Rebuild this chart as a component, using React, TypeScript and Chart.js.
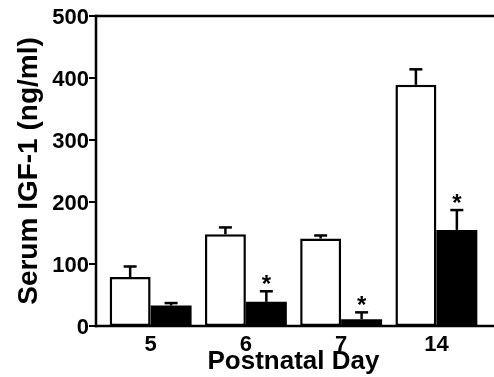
import React, { useEffect, useRef } from "react";
import { Chart, registerables } from "chart.js";

Chart.register(...registerables);

const categories = ["5", "6", "7", "14"];
const controlMeans = [79, 148, 141, 389];
const controlSem = [17, 11, 5, 25];
const treatedMeans = [33, 39, 11, 155];
const treatedSem = [4, 17, 11, 32];
const significant = [false, true, true, true];
const yTicks = [0, 100, 200, 300, 400, 500];

const FONT = "'Liberation Sans', Arial, Helvetica, sans-serif";

const axesPlugin = {
  id: "axesAndErrors",
  afterDatasetsDraw(chart: any) {
    const { ctx, chartArea, scales } = chart;
    const y = scales.y;
    const axisX = chartArea.left - 7;
    const yTop = y.getPixelForValue(500);
    const yBot = y.getPixelForValue(0);
    const right = chart.width;
    ctx.save();
    ctx.strokeStyle = "#000";
    ctx.lineWidth = 2.5;
    ctx.lineCap = "butt";
    ctx.beginPath();
    ctx.moveTo(axisX, yTop - 1.25);
    ctx.lineTo(axisX, yBot + 1.25);
    ctx.stroke();
    ctx.beginPath();
    ctx.moveTo(axisX - 1.25, yTop);
    ctx.lineTo(right, yTop);
    ctx.stroke();
    ctx.beginPath();
    ctx.moveTo(axisX - 1.25, yBot);
    ctx.lineTo(right, yBot);
    ctx.stroke();
    ctx.lineWidth = 2;
    yTicks.forEach((v) => {
      const py = y.getPixelForValue(v);
      ctx.beginPath();
      ctx.moveTo(axisX - 7, py);
      ctx.lineTo(axisX, py);
      ctx.stroke();
    });
    const sems = [controlSem, treatedSem];
    const means = [controlMeans, treatedMeans];
    [0, 1].forEach((di) => {
      const meta = chart.getDatasetMeta(di);
      meta.data.forEach((el: any, j: number) => {
        const top = y.getPixelForValue(means[di][j]);
        const cap = y.getPixelForValue(means[di][j] + sems[di][j]);
        ctx.lineWidth = 2.5;
        ctx.beginPath();
        ctx.moveTo(el.x, top);
        ctx.lineTo(el.x, cap);
        ctx.stroke();
        ctx.beginPath();
        ctx.moveTo(el.x - 6.5, cap);
        ctx.lineTo(el.x + 6.5, cap);
        ctx.stroke();
        if (di === 1 && significant[j]) {
          ctx.fillStyle = "#000";
          ctx.font = `bold 24px ${FONT}`;
          ctx.textAlign = "center";
          ctx.textBaseline = "alphabetic";
          ctx.fillText("*", el.x, cap + 1);
        }
      });
    });
    ctx.restore();
  },
};

export default function App() {
  const ref = useRef<HTMLCanvasElement>(null);
  useEffect(() => {
    document.body.style.margin = "0";
    const chart = new Chart(ref.current as HTMLCanvasElement, {
      type: "bar",
      data: {
        labels: categories,
        datasets: [
          {
            label: "Control",
            data: controlMeans,
            backgroundColor: "#ffffff",
            borderColor: "#000000",
            borderWidth: 2.5,
            borderSkipped: false,
            barPercentage: 1,
            categoryPercentage: 0.86,
          },
          {
            label: "Treated",
            data: treatedMeans,
            backgroundColor: "#000000",
            borderColor: "#000000",
            borderWidth: 0,
            barPercentage: 1,
            categoryPercentage: 0.86,
          },
        ],
      },
      options: {
        responsive: false,
        animation: false,
        layout: { padding: { top: 16, right: 10, left: 0, bottom: 0 } },
        plugins: { legend: { display: false }, tooltip: { enabled: false } },
        scales: {
          x: {
            grid: { display: false, drawTicks: false },
            border: { display: false },
            ticks: {
              color: "#000",
              font: { family: FONT, size: 22, weight: "bold" },
              padding: 6,
            },
            title: {
              display: true,
              text: "Postnatal Day",
              color: "#000",
              font: { family: FONT, size: 26, weight: "bold" },
              padding: { top: 0, bottom: 0 },
            },
            afterFit: (s: any) => {
              s.height = 51;
              s.paddingLeft = 0;
              s.paddingRight = 0;
            },
          },
          y: {
            min: 0,
            max: 500,
            grid: { display: false, drawTicks: false },
            border: { display: false },
            ticks: {
              stepSize: 100,
              color: "#000",
              font: { family: FONT, size: 22, weight: "bold" },
              padding: 14,
              labelOffset: 2,
            },
            title: {
              display: true,
              text: "Serum IGF-1 (ng/ml)",
              color: "#000",
              font: { family: FONT, size: 28, weight: "bold" },
              padding: { top: 12, bottom: 0 },
            },
            afterFit: (s: any) => {
              s.width = 103;
              s.paddingTop = 0;
              s.paddingBottom = 0;
            },
          },
        },
      },
      plugins: [axesPlugin],
    });
    return () => chart.destroy();
  }, []);
  return (
    <div style={{ position: "fixed", left: 0, top: 0, width: 494, height: 377 }}>
      <canvas ref={ref} width={494} height={377} />
    </div>
  );
}
